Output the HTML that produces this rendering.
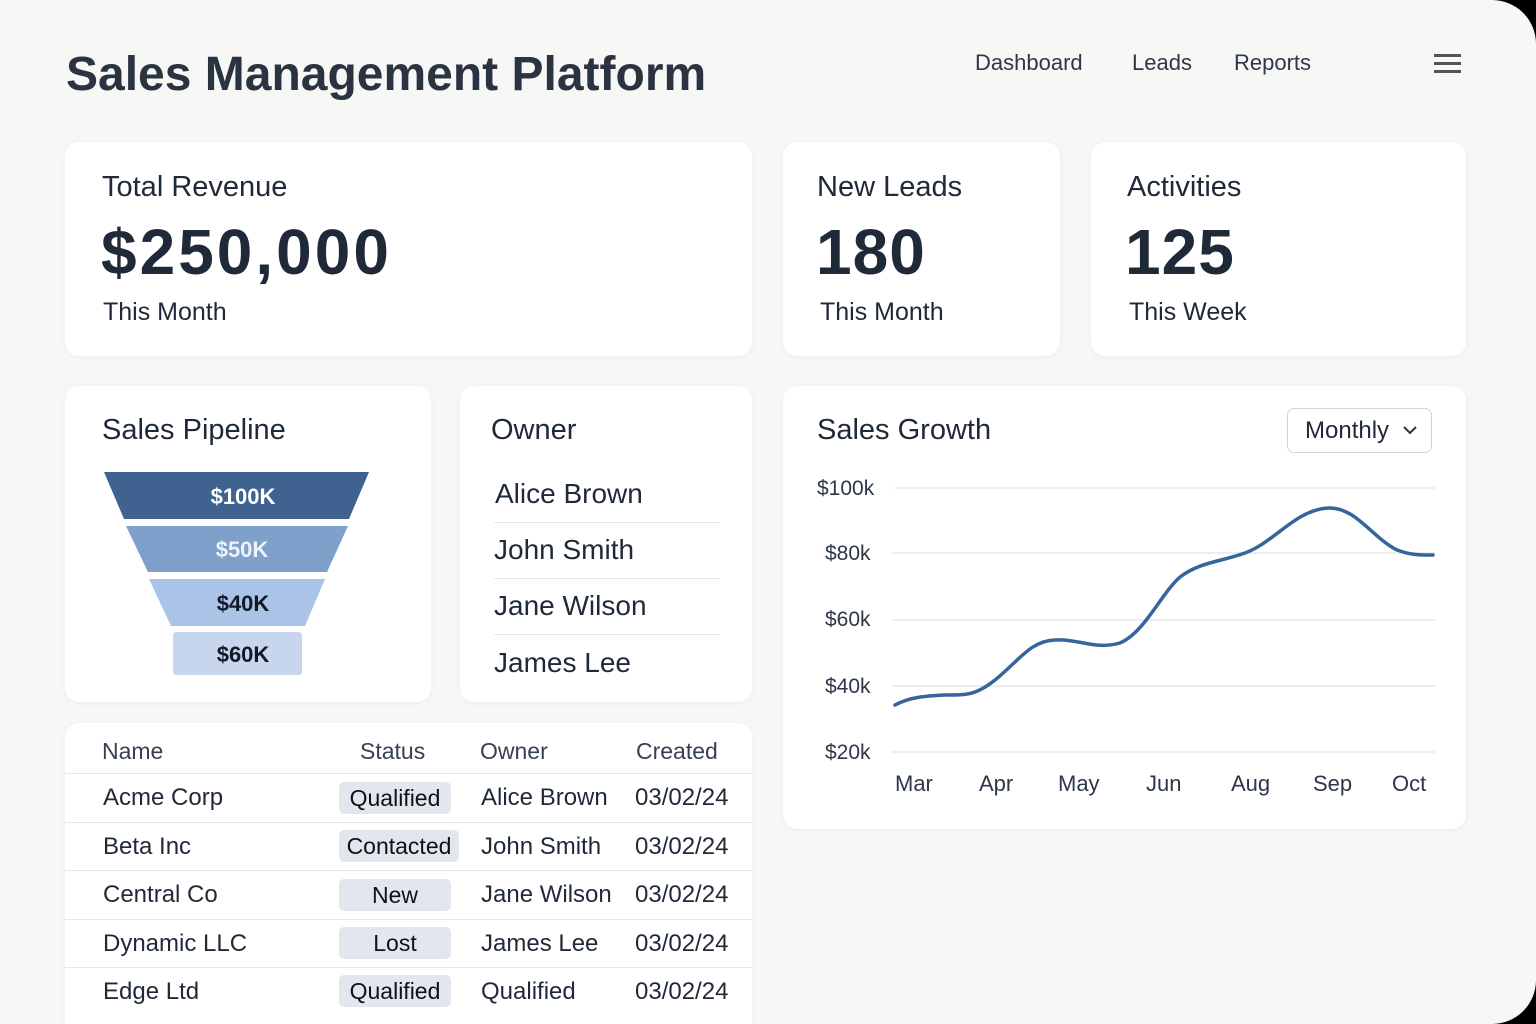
<!DOCTYPE html>
<html><head><style>
*{margin:0;padding:0;box-sizing:border-box}
body{width:1536px;height:1024px;background:#000;font-family:"Liberation Sans",sans-serif;color:#1f2937;overflow:hidden}
#pg{position:absolute;left:0;top:0;width:1536px;height:1024px;background:#f7f7f6;border-radius:0 44px 44px 0;overflow:hidden}
.t{position:absolute;white-space:nowrap}
.card{position:absolute;background:#fff;border-radius:14px;box-shadow:0 1px 6px rgba(0,0,0,0.05)}
.nav{font-size:22px;color:#2d3748;top:50px}
.ct{font-size:29px;color:#1f2937}
.big{font-size:64px;font-weight:bold;color:#1f2937;letter-spacing:0px}
.sub{font-size:25px;color:#1f2937}
.own{font-size:28px;left:494px}
.ol{position:absolute;left:494px;width:226px;height:1px;background:#e5e7eb}
.th{font-size:23px;color:#374151;top:738px}
.td{font-size:24px;color:#1f2937}
.rl{position:absolute;left:65px;width:687px;height:1px;background:#e8e8e8}
.bd{position:absolute;background:#e2e7ef;border-radius:5px;height:32px;font-size:23px;text-align:center;line-height:32px;color:#111}
.yl{font-size:21px;color:#2d3748;left:817px}
.xl{font-size:22px;color:#2d3748;top:771px}
</style></head><body><div id="pg">
<div class="t" style="left:66px;top:47px;font-size:48px;font-weight:bold;color:#2a3340">Sales Management Platform</div>
<div class="t nav" style="left:975px">Dashboard</div>
<div class="t nav" style="left:1132px">Leads</div>
<div class="t nav" style="left:1234px">Reports</div>
<div style="position:absolute;left:1434px;top:54px;width:27px;height:3px;background:#555"></div>
<div style="position:absolute;left:1434px;top:62px;width:27px;height:3px;background:#555"></div>
<div style="position:absolute;left:1434px;top:70px;width:27px;height:3px;background:#555"></div>

<div class="card" style="left:65px;top:142px;width:687px;height:214px"></div>
<div class="card" style="left:783px;top:142px;width:277px;height:214px"></div>
<div class="card" style="left:1091px;top:142px;width:375px;height:214px"></div>
<div class="t ct" style="left:102px;top:171px">Total Revenue</div>
<div class="t big" style="left:101px;top:215px;letter-spacing:3px">$250,000</div>
<div class="t sub" style="left:103px;top:298px">This Month</div>
<div class="t ct" style="left:817px;top:171px">New Leads</div>
<div class="t big" style="left:816px;top:215px;letter-spacing:1px">180</div>
<div class="t sub" style="left:820px;top:298px">This Month</div>
<div class="t ct" style="left:1127px;top:171px">Activities</div>
<div class="t big" style="left:1125px;top:215px;letter-spacing:1px">125</div>
<div class="t sub" style="left:1129px;top:298px">This Week</div>

<div class="card" style="left:65px;top:386px;width:366px;height:316px"></div>
<div class="card" style="left:460px;top:386px;width:292px;height:316px"></div>
<div class="card" style="left:783px;top:386px;width:683px;height:443px"></div>
<div class="t ct" style="left:102px;top:414px">Sales Pipeline</div>
<svg style="position:absolute;left:0;top:0" width="431" height="702">
<polygon points="104,472 369,472 349,519 124,519" fill="#3f6291"/>
<polygon points="126,526 348,526 327,572 148,572" fill="#7ea0ca"/>
<polygon points="149,579 325,579 305,626 171,626" fill="#aac3e6"/>
<rect x="173" y="632" width="129" height="43" rx="3" fill="#c7d6ec"/>
<g font-family="Liberation Sans" font-weight="bold" font-size="22" text-anchor="middle">
<text x="243" y="504" fill="#fff">$100K</text>
<text x="242" y="557" fill="#eef3fa">$50K</text>
<text x="243" y="611" fill="#111827">$40K</text>
<text x="243" y="662" fill="#111827">$60K</text></g>
</svg>
<div class="t ct" style="left:491px;top:414px">Owner</div>
<div class="t own" style="left:495px;top:478px">Alice Brown</div>
<div class="ol" style="top:522px"></div>
<div class="t own" style="top:534px">John Smith</div>
<div class="ol" style="top:578px"></div>
<div class="t own" style="top:590px">Jane Wilson</div>
<div class="ol" style="top:634px"></div>
<div class="t own" style="top:647px">James Lee</div>

<div class="t ct" style="left:817px;top:414px">Sales Growth</div>
<div style="position:absolute;left:1287px;top:408px;width:145px;height:45px;border:1px solid #d1d5db;border-radius:7px;background:#fff"></div>
<div class="t" style="left:1305px;top:417px;font-size:24px;color:#1f2937">Monthly</div>
<svg style="position:absolute;left:1402px;top:424px" width="18" height="14"><polyline points="2,3 8,9 14,3" fill="none" stroke="#333" stroke-width="2"/></svg>
<svg style="position:absolute;left:0;top:0" width="1536" height="829">
<g stroke="#e5e7eb" stroke-width="1.5"><line x1="895" y1="488" x2="1435" y2="488"/><line x1="892" y1="553" x2="1435" y2="553"/><line x1="892" y1="620" x2="1435" y2="620"/><line x1="892" y1="686" x2="1435" y2="686"/><line x1="892" y1="752" x2="1435" y2="752"/></g>
<path d="M895,705 C910,697 925,696 945,695 C965,695 975,696 995,680 C1020,660 1030,641 1055,640 C1080,639 1095,650 1120,643 C1145,632 1160,595 1180,577 C1200,562 1220,562 1245,553 C1275,542 1295,510 1328,508 C1355,507 1370,535 1395,549 C1410,556 1425,555 1433,555" fill="none" stroke="#36649c" stroke-width="3.5" stroke-linecap="round"/>
</svg>
<div class="t yl" style="top:477px">$100k</div>
<div class="t yl" style="left:825px;top:542px">$80k</div>
<div class="t yl" style="left:825px;top:608px">$60k</div>
<div class="t yl" style="left:825px;top:675px">$40k</div>
<div class="t yl" style="left:825px;top:741px">$20k</div>
<div class="t xl" style="left:895px">Mar</div>
<div class="t xl" style="left:979px">Apr</div>
<div class="t xl" style="left:1058px">May</div>
<div class="t xl" style="left:1146px">Jun</div>
<div class="t xl" style="left:1231px">Aug</div>
<div class="t xl" style="left:1313px">Sep</div>
<div class="t xl" style="left:1392px">Oct</div>

<div class="card" style="left:65px;top:723px;width:687px;height:330px"></div>
<div class="t th" style="left:102px">Name</div>
<div class="t th" style="left:360px">Status</div>
<div class="t th" style="left:480px">Owner</div>
<div class="t th" style="left:636px">Created</div>
<div class="rl" style="top:773px"></div>
<div class="rl" style="top:822px"></div>
<div class="rl" style="top:870px"></div>
<div class="rl" style="top:919px"></div>
<div class="rl" style="top:967px"></div>
<div class="bd" style="left:339px;top:782px;width:112px">Qualified</div>
<div class="bd" style="left:339px;top:830px;width:120px">Contacted</div>
<div class="bd" style="left:339px;top:879px;width:112px">New</div>
<div class="bd" style="left:339px;top:927px;width:112px">Lost</div>
<div class="bd" style="left:339px;top:975px;width:112px">Qualified</div>
<div class="t td" style="left:103px;top:784px">Acme Corp</div>
<div class="t td" style="left:103px;top:833px">Beta Inc</div>
<div class="t td" style="left:103px;top:881px">Central Co</div>
<div class="t td" style="left:103px;top:930px">Dynamic LLC</div>
<div class="t td" style="left:103px;top:978px">Edge Ltd</div>
<div class="t td" style="left:481px;top:784px">Alice Brown</div>
<div class="t td" style="left:481px;top:833px">John Smith</div>
<div class="t td" style="left:481px;top:881px">Jane Wilson</div>
<div class="t td" style="left:481px;top:930px">James Lee</div>
<div class="t td" style="left:481px;top:978px">Qualified</div>
<div class="t td" style="left:635px;top:784px">03/02/24</div>
<div class="t td" style="left:635px;top:833px">03/02/24</div>
<div class="t td" style="left:635px;top:881px">03/02/24</div>
<div class="t td" style="left:635px;top:930px">03/02/24</div>
<div class="t td" style="left:635px;top:978px">03/02/24</div>
</div></body></html>
